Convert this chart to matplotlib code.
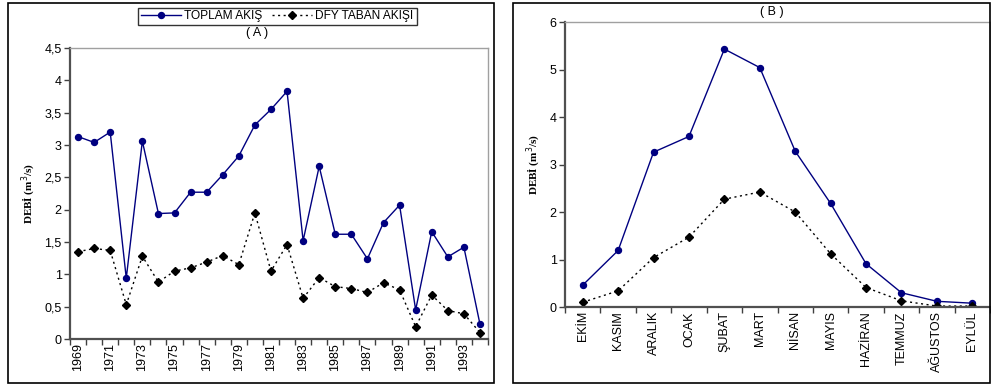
import numpy as np
import matplotlib
matplotlib.use("Agg")
from matplotlib import pyplot as plt
from matplotlib.patches import Rectangle
from matplotlib.ticker import FuncFormatter, FixedLocator

plt.rcParams['font.family'] = ['Liberation Sans', 'DejaVu Sans']

years = list(range(1969, 1995))
toplam_yil = [3.13, 3.04, 3.20, 0.94, 3.06, 1.94, 1.95, 2.27, 2.27, 2.54, 2.83, 3.31, 3.55,
              3.83, 1.52, 2.67, 1.62, 1.62, 1.24, 1.80, 2.07, 0.45, 1.66, 1.27, 1.42, 0.23]
taban_yil = [1.35, 1.40, 1.37, 0.53, 1.28, 0.88, 1.05, 1.10, 1.19, 1.29, 1.15, 1.95, 1.05,
             1.46, 0.63, 0.95, 0.81, 0.78, 0.72, 0.87, 0.76, 0.19, 0.68, 0.44, 0.39, 0.10]

months = ['EKİM', 'KASIM', 'ARALIK', 'OCAK', 'ŞUBAT', 'MART', 'NİSAN', 'MAYIS',
          'HAZİRAN', 'TEMMUZ', 'AĞUSTOS', 'EYLÜL']
toplam_ay = [0.46, 1.19, 3.26, 3.59, 5.43, 5.04, 3.28, 2.18, 0.91, 0.30, 0.12, 0.08]
taban_ay = [0.10, 0.34, 1.04, 1.47, 2.27, 2.42, 2.00, 1.12, 0.41, 0.13, 0.02, 0.02]

W, H = 991, 386
fig = plt.figure(figsize=(W / 100, H / 100), dpi=100)

# outer chart boxes
fig.patches.append(Rectangle((8 / W, 1 - 383 / H), 486 / W, 380 / H, transform=fig.transFigure,
                             fill=False, edgecolor='black', linewidth=1.2))
fig.patches.append(Rectangle((513 / W, 1 - 383 / H), 477 / W, 380 / H, transform=fig.transFigure,
                             fill=False, edgecolor='black', linewidth=1.2))

comma = FuncFormatter(lambda v, p: ('%g' % v).replace('.', ','))


def style(ax, n, labels, ymax, ystep):
    ax.set_xlim(-0.5, n - 0.5)
    ax.set_ylim(0, ymax)
    ax.set_yticks(np.arange(0, ymax + 0.001, ystep))
    ax.yaxis.set_major_formatter(comma)
    ax.xaxis.set_major_locator(FixedLocator(np.arange(-0.5, n)))
    ax.xaxis.set_major_formatter(FuncFormatter(lambda v, p: ''))
    ax.xaxis.set_minor_locator(FixedLocator([i for i, l in enumerate(labels) if l]))
    ax.set_xticklabels([l for l in labels if l], minor=True, rotation=90, fontsize=9)
    ax.tick_params(axis='x', which='minor', length=0, pad=3)
    ax.tick_params(axis='x', which='major', length=4, width=1, color='#404040', direction='out')
    ax.tick_params(axis='y', length=4, width=1, color='#404040', labelsize=9, pad=2)
    for s in ['left', 'bottom']:
        ax.spines[s].set_color('#505050')
        ax.spines[s].set_linewidth(1.6)
    for s in ['top', 'right']:
        ax.spines[s].set_color('#a0a0a0')
        ax.spines[s].set_linewidth(1.0)
    ax.set_ylabel('DEBİ (m$^3$/s)', family=['Liberation Serif', 'DejaVu Serif'],
                  fontweight='bold', fontsize=8)


axA = fig.add_axes([70 / W, 1 - 339 / H, 418 / W, 291 / H])
xa = np.arange(len(years))
axA.plot(xa, toplam_yil, color='#000080', linewidth=1.0, marker='o', markersize=4.3,
         label='TOPLAM AKIŞ')
axA.plot(xa, taban_yil, color='black', linewidth=1.0, linestyle=(0, (1.5, 2.5)), marker='D',
         markersize=3.6, label='DFY TABAN AKIŞI')
style(axA, len(years), [str(y) if (y - 1969) % 2 == 0 else '' for y in years], 4.5, 0.5)
axA.yaxis.set_label_coords(-0.076, 0.5)

axB = fig.add_axes([565 / W, 1 - 307 / H, 425 / W, 285 / H])
xb = np.arange(len(months))
axB.plot(xb, toplam_ay, color='#000080', linewidth=1.0, marker='o', markersize=4.3)
axB.plot(xb, taban_ay, color='black', linewidth=1.0, linestyle=(0, (1.5, 2.5)), marker='D',
         markersize=3.6)
style(axB, len(months), months, 6, 1)
axB.yaxis.set_label_coords(-0.052, 0.5)

fig.text(257 / W, 1 - 33 / H, '( A )', ha='center', va='center', fontsize=9)
fig.text(772 / W, 1 - 12 / H, '( B )', ha='center', va='center', fontsize=9)

leg = fig.legend(loc='center', bbox_to_anchor=(277.5 / W, 1 - 16.5 / H), ncol=2,
                 fontsize=8.6, frameon=True, fancybox=False, edgecolor='black',
                 handlelength=3.3, handletextpad=0.3, columnspacing=0.8,
                 borderpad=0.25, borderaxespad=0)
leg.get_frame().set_linewidth(1.0)

fig.savefig('out.png', dpi=100)
